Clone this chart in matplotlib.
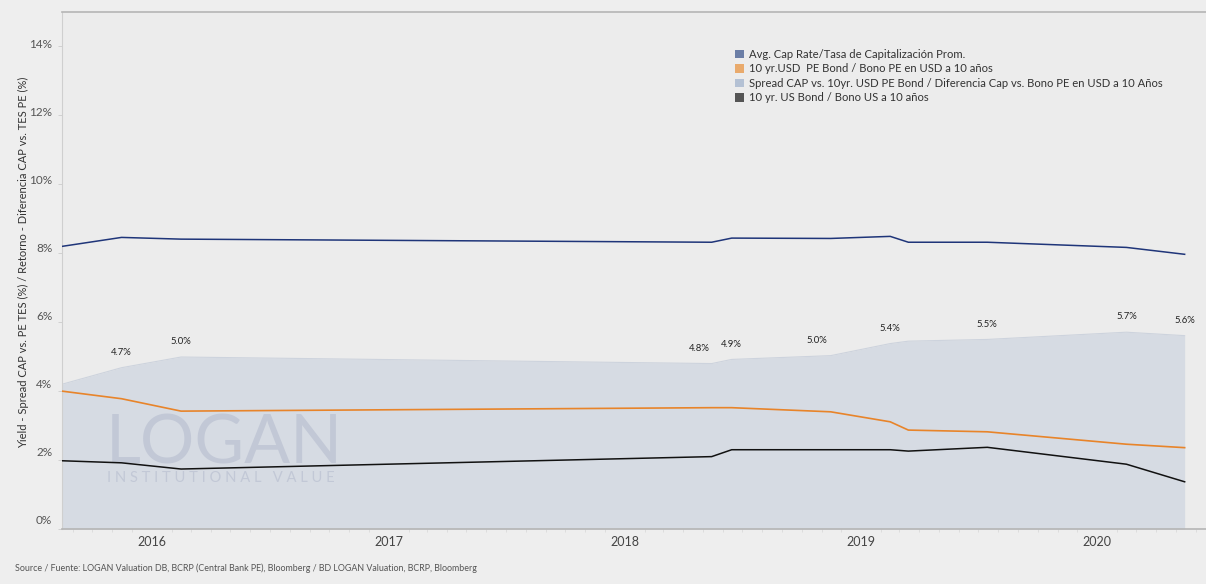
import matplotlib
matplotlib.use("Agg")
import matplotlib.pyplot as plt
import matplotlib.dates as mdates
from matplotlib.patches import Patch
from matplotlib.transforms import ScaledTranslation
import numpy as np
import pandas as pd

plt.rcParams['font.family'] = ['Lato', 'DejaVu Sans']

# ---- data (% values) ----
dates = pd.to_datetime([
    "2015-08-15", "2015-11-15", "2016-02-15", "2018-05-15", "2018-06-15",
    "2018-11-15", "2019-02-15", "2019-03-15", "2019-07-15", "2020-02-15",
    "2020-05-15",
])
cap_rate = [8.20, 8.46, 8.41, 8.32, 8.44, 8.43, 8.49, 8.32, 8.32, 8.17, 7.97]
pe_bond_usd = [4.00, 3.78, 3.42, 3.52, 3.52, 3.40, 3.11, 2.87, 2.82, 2.46, 2.36]
us_bond = [1.98, 1.92, 1.74, 2.10, 2.30, 2.30, 2.30, 2.26, 2.37, 1.88, 1.37]
spread_labelled = [False, True, True, True, True, True, True, False, True, True, True]

ytick_values = [0, 2, 4, 6, 8, 10, 12, 14]
year_ticks = [2016, 2017, 2018, 2019, 2020]

legend_labels = [
    "Avg. Cap Rate/Tasa de Capitalización Prom.",
    "10 yr.USD  PE Bond / Bono PE en USD a 10 años",
    "Spread CAP vs. 10yr. USD PE Bond / Diferencia Cap vs. Bono PE en USD a 10 Años",
    "10 yr. US Bond / Bono US a 10 años",
]
ylabel_text = "Yield - Spread CAP vs. PE TES (%) / Retorno - Diferencia CAP vs. TES PE (%)"
source_text = ("Source / Fuente: LOGAN Valuation DB, BCRP (Central Bank PE), Bloomberg / "
               "BD LOGAN Valuation, BCRP, Bloomberg")

spread = np.array(cap_rate) - np.array(pe_bond_usd)

# ---- styling ----
BG_FIG = "#eeeeee"
BG_AX = "#ececec"
C_CAP = "#1f3579"
C_PE = "#e8842a"
C_US = "#111111"
C_SPREAD = "#d6dbe3"
C_MARK = "#c2c8d6"
LEG_COLORS = ["#6b7ea6", "#e9aa6c", "#b4c1d4", "#555555"]

W, H = 1206, 584
fig = plt.figure(figsize=(W / 100, H / 100), dpi=100, facecolor=BG_FIG)
ax = fig.add_axes([62 / W, (H - 529) / H, (W - 62) / W, (529 - 12) / H])
ax.set_facecolor(BG_AX)

# spread area and series lines
ax.fill_between(dates, 0, spread, color=C_SPREAD, linewidth=0, zorder=1)
ax.plot(dates, spread, color="#cdd3dd", linewidth=0.8, zorder=1.5)
ax.plot(dates, cap_rate, color=C_CAP, linewidth=1.1, zorder=4)
ax.plot(dates, pe_bond_usd, color=C_PE, linewidth=1.2, zorder=4)
ax.plot(dates, us_bond, color=C_US, linewidth=1.1, zorder=4)

# watermark over the shaded area
ax.text(106 / W, 1 - 464 / H, "LOGAN", transform=fig.transFigure, fontsize=49,
        fontweight="normal", color=C_MARK, ha="left", va="baseline", zorder=2)
ax.text(107 / W, 1 - 482 / H, "I N S T I T U T I O N A L   V A L U E",
        transform=fig.transFigure, fontsize=10.6, fontweight="normal",
        color=C_MARK, ha="left", va="baseline", zorder=2)

# spread value labels
label_dx = {3: -12, 5: -14}
for i, (d, s, show) in enumerate(zip(dates, spread, spread_labelled)):
    if not show:
        continue
    ax.annotate(f"{s:.1f}%", xy=(d, s), xytext=(label_dx.get(i, 0) * 0.72, 11),
                textcoords="offset points", ha="center", va="center",
                fontsize=6.8, color="#222222", zorder=5)

# axes
ax.set_ylim(0, 15)
ax.set_xlim(pd.Timestamp("2015-08-15"), pd.Timestamp("2020-06-17"))
ax.set_yticks(ytick_values)
ax.set_yticklabels([f"{v}%" for v in ytick_values])
ax.set_xticks([pd.Timestamp(f"{y}-01-01") for y in year_ticks])
ax.set_xticklabels([str(y) for y in year_ticks])
ax.xaxis.set_minor_locator(mdates.MonthLocator())
ax.tick_params(axis="y", length=3, width=0.6, color="#cccccc", pad=4,
               labelsize=8.5, labelcolor="#555555")
ax.tick_params(axis="x", which="major", length=0, pad=5, labelsize=9,
               labelcolor="#444444")
ax.tick_params(axis="x", which="minor", length=2, width=0.4, color="#d0d0d0")

for lbl, v in zip(ax.get_yticklabels(), ytick_values):
    dy = (10 - 7 * v / 14) / 100
    lbl.set_transform(lbl.get_transform() + ScaledTranslation(0, dy, fig.dpi_scale_trans))

for side in ("top", "bottom"):
    ax.spines[side].set_color("#b5b5b5")
    ax.spines[side].set_linewidth(1.2)
ax.spines["left"].set_color("#cfcfcf")
ax.spines["left"].set_linewidth(0.8)
ax.spines["right"].set_visible(False)

ax.set_ylabel(ylabel_text, fontsize=8.0, color="#333333")
ax.yaxis.set_label_coords(-33 / (W - 62), (529 - 262) / (529 - 12))

handles = [Patch(facecolor=c, edgecolor="none") for c in LEG_COLORS]
ax.legend(handles, legend_labels, loc="upper left",
          bbox_to_anchor=(735 / W, 1 - 49 / H), bbox_transform=fig.transFigure,
          frameon=False, fontsize=8.1, handlelength=0.8, handleheight=0.8,
          handletextpad=0.45, labelspacing=0.3, borderpad=0, borderaxespad=0,
          labelcolor="#333333")

fig.text(15 / W, 1 - 568 / H, source_text, fontsize=6.4, color="#555555",
         ha="left", va="center")

fig.savefig("out.png", dpi=100, facecolor=BG_FIG)
